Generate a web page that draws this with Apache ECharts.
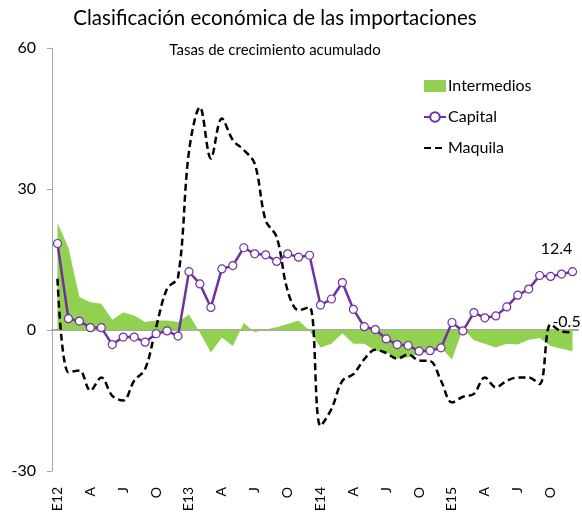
<!DOCTYPE html>
<html>
<head>
<meta charset="utf-8">
<script src="https://cdn.jsdelivr.net/npm/echarts@6/dist/echarts.min.js"></script>
<style>
  html, body { margin: 0; padding: 0; background: #fff; }
  #chart { width: 582px; height: 518px; }
</style>
</head>
<body>
<div id="chart"></div>
<script>
// meses ene-2012 .. dic-2015
const meses = [
  'E12','F','M','A','M','J','J','A','S','O','N','D',
  'E13','F','M','A','M','J','J','A','S','O','N','D',
  'E14','F','M','A','M','J','J','A','S','O','N','D',
  'E15','F','M','A','M','J','J','A','S','O','N','D'
]
const intermedios = [22.8, 17.5, 7.0, 5.9, 5.6, 2.2, 3.7, 3.1, 1.7, 2.0, 2.0, 1.7,
  3.3, -0.6, -4.8, -1.6, -3.4, 1.5, -0.5, 0.1, 0.6, 1.3, 2.0, -0.1,
  -3.7, -2.9, -0.7, -2.9, -2.9, -4.4, -4.7, -6.1, -5.8, -5.1, -4.4, -3.8,
  -6.3, 0.3, -2.2, -2.9, -3.7, -2.9, -3.1, -2.1, -1.7, -3.4, -4.0, -4.5]
const capital = [18.4, 2.4, 1.9, 0.5, 0.5, -3.1, -1.5, -1.5, -2.6, -0.8, -0.2, -1.3,
  12.4, 9.8, 4.8, 13.0, 13.7, 17.5, 16.2, 16.0, 14.6, 16.2, 15.5, 15.9,
  5.3, 6.6, 10.1, 4.4, 0.7, 0.1, -1.9, -3.1, -3.3, -4.5, -4.4, -3.8,
  1.6, -0.2, 3.7, 2.6, 3.0, 4.9, 7.4, 8.7, 11.6, 11.4, 11.9, 12.4]
const maquila = [10.9, -9.0, -8.6, -12.9, -10.1, -14.0, -15.0, -10.8, -8.3, 0.6, 8.8, 11.2,
  38.0, 47.4, 36.5, 45.0, 40.4, 38.3, 35.4, 23.3, 19.8, 8.4, 4.2, 4.9,
  -20.4, -16.8, -10.8, -9.4, -6.2, -4.2, -4.9, -6.1, -5.2, -6.5, -6.6, -10.8,
  -15.4, -14.2, -13.6, -10.1, -12.2, -10.8, -10.1, -10.1, -11.5, 1.2, -0.3, -0.5]

const fuente = 'Lato, "Open Sans", sans-serif'

// etiqueta solo en el ultimo dato
const conUltimaEtiqueta = (arr, label) => arr.map((v, i) =>
  i === arr.length - 1 ? { value: v, label: Object.assign({ show: true }, label) } : v)

var chart = echarts.init(document.getElementById('chart'))
chart.setOption({
  animation: false,
  textStyle: { fontFamily: fuente, color: '#000' },
  title: [
    {
      text: 'Clasificación económica de las importaciones',
      left: 270, top: 3, textAlign: 'center',
      textStyle: { fontFamily: fuente, fontSize: 20.5, fontWeight: 'normal', color: '#000' }
    },
    {
      text: 'Tasas de crecimiento acumulado',
      left: 270, top: 38, textAlign: 'center',
      textStyle: { fontFamily: fuente, fontSize: 15, fontWeight: 'normal', color: '#000' }
    }
  ],
  legend: {
    orient: 'vertical',
    left: 423, top: 78,
    padding: 0,
    itemWidth: 22, itemHeight: 12, itemGap: 15,
    textStyle: { fontFamily: fuente, fontSize: 16, color: '#000', padding: [0, 0, 0, -3] },
    data: [{ name: 'Intermedios', icon: 'rect' }, 'Capital', 'Maquila']
  },
  grid: { left: 52, right: 4, top: 48, bottom: 47, containLabel: false },
  xAxis: [
    {
      type: 'category', data: meses, position: 'bottom',
      axisLine: { onZero: true, lineStyle: { color: '#a6a6a6', width: 2 } },
      axisTick: { interval: 2, length: 5, lineStyle: { color: '#a6a6a6', width: 1 } },
      axisLabel: { show: false }
    },
    {
      type: 'category', data: meses, position: 'bottom',
      axisLine: { show: false, onZero: false },
      axisTick: { show: false },
      axisLabel: { interval: 2, rotate: 90, margin: 16, fontSize: 14, color: '#000', fontFamily: fuente }
    }
  ],
  yAxis: {
    type: 'value', min: -30, max: 60, interval: 30,
    axisLine: { show: true, lineStyle: { color: '#a6a6a6', width: 1 } },
    axisTick: { show: true, length: 5, lineStyle: { color: '#a6a6a6' } },
    axisLabel: { fontSize: 16, color: '#000', margin: 16, fontFamily: fuente },
    splitLine: { show: false }
  },
  series: [
    {
      name: 'Intermedios', type: 'line', data: intermedios,
      color: '#92d050',
      symbol: 'none',
      lineStyle: { width: 0 },
      areaStyle: { color: '#92d050', opacity: 1 },
      z: 1
    },
    {
      name: 'Capital', type: 'line',
      data: conUltimaEtiqueta(capital, { position: 'top', offset: [-16, -5], fontSize: 16, color: '#000', fontFamily: fuente }),
      symbol: 'circle', symbolSize: 8, showAllSymbol: true,
      lineStyle: { color: '#7030a0', width: 2.5 },
      itemStyle: { color: '#fff', borderColor: '#7030a0', borderWidth: 1.2 },
      z: 3
    },
    {
      name: 'Maquila', type: 'line', smooth: 0.35,
      data: conUltimaEtiqueta(maquila, { position: 'top', offset: [-6, 3], fontSize: 16, color: '#000', fontFamily: fuente }),
      symbol: 'circle', symbolSize: 2, showAllSymbol: true,
      itemStyle: { color: 'rgba(0,0,0,0)' },
      lineStyle: { color: '#000', width: 2.5, type: [7, 4] },
      z: 2
    }
  ]
})
</script>
</body>
</html>
